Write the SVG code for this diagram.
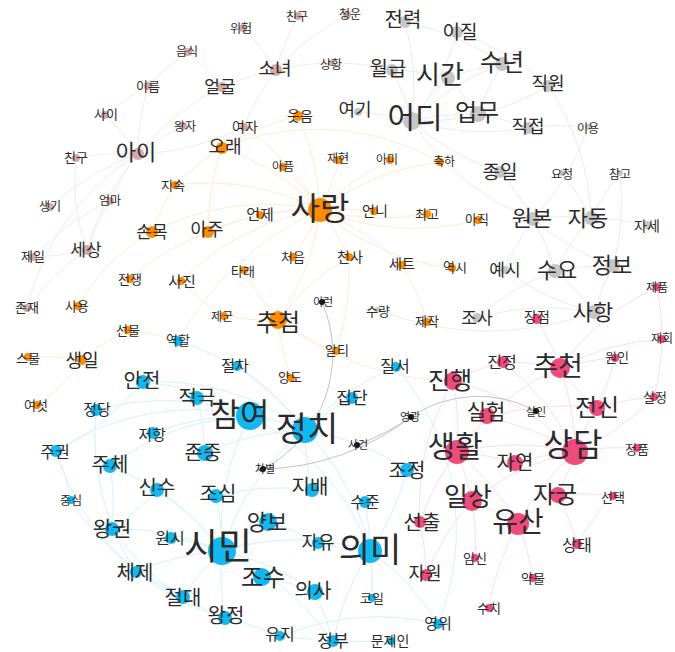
<svg xmlns="http://www.w3.org/2000/svg" width="675" height="652" viewBox="0 0 675 652">
<style>
text{font-family:"Noto Sans CJK KR","Noto Sans",sans-serif;fill:#2b2b2b;text-anchor:middle;dominant-baseline:central}
.b{fill:#d3aaaa}.o{fill:#ff8c00}.g{fill:#c6c6c6}.c{fill:#12b9f0}.p{fill:#f04b7d}.k{fill:#111}
#edges path{fill:none;stroke-width:1}
.ec{stroke:#a6e1f7;opacity:.45}.eo{stroke:#ffd2a6;opacity:.45}.ep{stroke:#f9b8cb;opacity:.45}.eg{stroke:#dadada;opacity:.5}.eb{stroke:#ecd6d6;opacity:.5}.ek{stroke:#b0b0b0;opacity:.75}
</style>
<rect width="675" height="652" fill="#fff"/>
<g id="edges">
<g class="ec">
<path d="M222,551 A250,250 0 0 1 250,416"/><path d="M222,551 A250,250 0 0 1 305,430"/><path d="M222,551 A250,250 0 0 1 370,551"/>
<path d="M112,529 A250,250 0 0 1 222,551"/><path d="M136,572 A250,250 0 0 1 222,551"/><path d="M183,597 A250,250 0 0 1 222,551"/>
<path d="M225,618 A250,250 0 0 1 222,551"/><path d="M222,551 A250,250 0 0 1 262,577"/><path d="M222,551 A250,250 0 0 1 268,522"/>
<path d="M110,466 A250,250 0 0 1 222,551"/><path d="M157,490 A250,250 0 0 1 222,551"/><path d="M216,496 A250,250 0 0 1 222,551"/>
<path d="M250,416 A250,250 0 0 1 305,430"/><path d="M305,430 A250,250 0 0 1 370,551"/><path d="M305,430 A250,250 0 0 1 352,398"/>
<path d="M305,430 A250,250 0 0 1 396,367"/><path d="M312,490 A250,250 0 0 1 305,430"/><path d="M143,382 A250,250 0 0 1 305,430"/>
<path d="M197,398 A250,250 0 0 1 250,416"/><path d="M143,382 A250,250 0 0 1 250,416"/><path d="M96,410 A250,250 0 0 1 250,416"/>
<path d="M153,433 A250,250 0 0 1 250,416"/><path d="M56,451 A250,250 0 0 1 250,416"/><path d="M370,551 A250,250 0 0 1 318,543"/>
<path d="M365,502 A250,250 0 0 1 370,551"/><path d="M407,470 A250,250 0 0 1 370,551"/><path d="M370,551 A250,250 0 0 1 438,624"/>
<path d="M370,551 A250,250 0 0 1 372,598"/><path d="M333,643 A250,250 0 0 1 370,551"/><path d="M315,592 A250,250 0 0 1 333,643"/>
<path d="M280,637 A250,250 0 0 1 333,643"/><path d="M333,643 A250,250 0 0 1 391,643"/><path d="M225,618 A250,250 0 0 1 280,637"/>
<path d="M136,572 A250,250 0 0 1 183,597"/><path d="M56,451 A250,250 0 0 1 71,500"/><path d="M110,466 A250,250 0 0 1 112,529"/>
<path d="M157,490 A250,250 0 0 1 112,529"/><path d="M268,522 A250,250 0 0 1 318,543"/><path d="M262,577 A250,250 0 0 1 315,592"/>
<path d="M178,341 A250,250 0 0 1 305,430"/><path d="M237,366 A250,250 0 0 1 305,430"/><path d="M305,430 A250,250 0 0 1 407,470"/>
<path d="M143,382 A250,250 0 0 1 56,451"/><path d="M197,398 A250,250 0 0 1 205,453"/><path d="M171,538 A250,250 0 0 1 222,551"/>
<path d="M222,551 A250,250 0 0 1 315,592"/><path d="M222,551 A250,250 0 0 1 333,643"/><path d="M110,466 A250,250 0 0 1 250,416"/>
<path d="M71,500 A250,250 0 0 0 183,597"/><path d="M56,451 A250,250 0 0 0 225,618"/><path d="M112,529 A250,250 0 0 0 225,618"/>
<path d="M396,367 A250,250 0 0 1 438,624"/><path d="M250,416 A250,250 0 0 1 370,551"/><path d="M205,453 A250,250 0 0 1 305,430"/>
<path d="M216,496 A250,250 0 0 1 312,490"/><path d="M96,410 A250,250 0 0 0 136,572"/><path d="M280,637 A250,250 0 0 1 438,624"/>
</g>
<g class="eo">
<path d="M260,215 A250,250 0 0 1 320,210"/><path d="M208,232 A250,250 0 0 1 320,210"/><path d="M222,148 A250,250 0 0 1 320,210"/>
<path d="M152,232 A250,250 0 0 1 320,210"/><path d="M298,116 A250,250 0 0 1 320,210"/><path d="M339,160 A250,250 0 0 1 320,210"/>
<path d="M320,210 A250,250 0 0 1 390,160"/><path d="M320,210 A250,250 0 0 1 440,162"/><path d="M283,167 A250,250 0 0 1 320,210"/>
<path d="M320,210 A250,250 0 0 1 374,211"/><path d="M320,210 A250,250 0 0 0 427,214"/><path d="M320,210 A250,250 0 0 0 478,220"/>
<path d="M320,210 A250,250 0 0 1 293,257"/><path d="M320,210 A250,250 0 0 1 349,257"/><path d="M320,210 A250,250 0 0 1 402,265"/>
<path d="M320,210 A250,250 0 0 0 452,268"/><path d="M320,210 A250,250 0 0 1 278,320"/><path d="M175,185 A250,250 0 0 1 320,210"/>
<path d="M181,281 A250,250 0 0 1 320,210"/><path d="M244,127 A250,250 0 0 1 320,210"/><path d="M278,320 A250,250 0 0 1 244,270"/>
<path d="M278,320 A250,250 0 0 1 224,316"/><path d="M278,320 A250,250 0 0 0 336,351"/><path d="M278,320 A250,250 0 0 0 291,378"/>
<path d="M278,320 A250,250 0 0 1 349,257"/><path d="M278,320 A300,300 0 0 0 453,381"/><path d="M128,330 A250,250 0 0 1 178,341"/>
<path d="M128,330 A250,250 0 0 0 82,360"/><path d="M82,360 A150,150 0 0 1 37,405"/><path d="M82,360 A250,250 0 0 0 28,357"/>
<path d="M78,306 A200,200 0 0 1 152,232"/><path d="M130,279 A250,250 0 0 1 208,232"/><path d="M152,232 A250,250 0 0 1 175,185"/>
<path d="M181,281 A250,250 0 0 0 224,316"/><path d="M208,232 A250,250 0 0 1 260,215"/><path d="M298,116 A250,250 0 0 0 222,148"/>
<path d="M175,185 A250,250 0 0 1 222,148"/><path d="M208,232 A250,250 0 0 1 222,148"/><path d="M349,257 A250,250 0 0 1 336,351"/>
<path d="M402,265 A250,250 0 0 1 427,322"/><path d="M178,341 A300,300 0 0 1 320,210"/><path d="M222,148 A250,250 0 0 1 440,162"/>
</g>
<g class="eg">
<path d="M412,121 A250,250 0 0 1 448,78"/><path d="M412,121 A250,250 0 0 1 478,114"/><path d="M358,112 A250,250 0 0 1 412,121"/>
<path d="M392,70 A250,250 0 0 1 412,121"/><path d="M412,121 A250,250 0 0 1 502,64"/><path d="M405,22 A250,250 0 0 1 412,121"/>
<path d="M457,32 A250,250 0 0 1 412,121"/><path d="M412,121 A250,250 0 0 0 548,86"/><path d="M412,121 A250,250 0 0 0 528,128"/>
<path d="M412,121 A250,250 0 0 0 500,172"/><path d="M448,78 A250,250 0 0 1 502,64"/><path d="M392,70 A250,250 0 0 1 448,78"/>
<path d="M478,114 A250,250 0 0 1 528,128"/><path d="M478,114 A250,250 0 0 1 502,64"/><path d="M533,219 A250,250 0 0 1 591,218"/>
<path d="M533,219 A250,250 0 0 1 555,271"/><path d="M533,219 A250,250 0 0 0 613,266"/><path d="M505,270 A250,250 0 0 1 533,219"/>
<path d="M555,271 A250,250 0 0 1 591,218"/><path d="M555,271 A250,250 0 0 1 613,266"/><path d="M555,271 A250,250 0 0 1 594,312"/>
<path d="M477,318 A250,250 0 0 1 594,312"/><path d="M594,312 A250,250 0 0 1 613,266"/><path d="M591,218 A250,250 0 0 1 647,225"/>
<path d="M591,218 A250,250 0 0 1 620,173"/><path d="M562,173 A250,250 0 0 1 591,218"/><path d="M588,127 A250,250 0 0 1 533,219"/>
<path d="M500,172 A250,250 0 0 1 533,219"/><path d="M528,128 A250,250 0 0 1 588,127"/><path d="M378,310 A300,300 0 0 0 594,312"/>
<path d="M477,318 A250,250 0 0 1 555,271"/><path d="M457,32 A250,250 0 0 1 548,86"/><path d="M405,22 A250,250 0 0 1 502,64"/>
<path d="M548,86 A250,250 0 0 1 591,218"/><path d="M331,63 A250,250 0 0 1 392,70"/><path d="M448,78 A250,250 0 0 1 478,114"/>
<path d="M412,121 A250,250 0 0 0 533,219"/><path d="M505,270 A250,250 0 0 0 594,312"/><path d="M620,173 A250,250 0 0 1 613,266"/>
</g>
<g class="eb">
<path d="M76,158 A250,250 0 0 1 138,154"/><path d="M105,115 A250,250 0 0 1 138,154"/><path d="M138,154 A250,250 0 0 1 148,86"/>
<path d="M138,154 A250,250 0 0 1 183,126"/><path d="M138,154 A250,250 0 0 1 222,87"/><path d="M110,201 A250,250 0 0 1 138,154"/>
<path d="M50,207 A250,250 0 0 1 138,154"/><path d="M87,250 A250,250 0 0 1 33,257"/><path d="M27,308 A250,250 0 0 1 87,250"/>
<path d="M87,250 A250,250 0 0 1 110,201"/><path d="M222,87 A250,250 0 0 1 276,70"/><path d="M188,52 A250,250 0 0 1 222,87"/>
<path d="M243,28 A250,250 0 0 1 276,70"/><path d="M276,70 A250,250 0 0 1 298,16"/><path d="M276,70 A250,250 0 0 1 347,15"/>
<path d="M276,70 A250,250 0 0 1 331,63"/><path d="M244,127 A250,250 0 0 1 276,70"/><path d="M138,154 A250,250 0 0 0 87,250"/>
<path d="M148,86 A250,250 0 0 1 188,52"/><path d="M138,154 A250,250 0 0 0 244,127"/><path d="M27,308 A250,250 0 0 1 138,154"/>
<path d="M105,115 A250,250 0 0 1 148,86"/><path d="M76,158 A200,200 0 0 0 87,250"/><path d="M33,257 A250,250 0 0 1 110,201"/>
</g>
<g class="ep">
<path d="M457,452 A250,250 0 0 1 575,452"/><path d="M560,368 A250,250 0 0 1 575,452"/><path d="M575,452 A250,250 0 0 1 597,408"/>
<path d="M515,463 A250,250 0 0 1 575,452"/><path d="M575,452 A250,250 0 0 1 558,495"/><path d="M472,501 A250,250 0 0 1 575,452"/>
<path d="M518,524 A250,250 0 0 1 575,452"/><path d="M487,418 A250,250 0 0 1 575,452"/><path d="M453,381 A250,250 0 0 1 575,452"/>
<path d="M503,362 A250,250 0 0 1 575,452"/><path d="M575,452 A250,250 0 0 1 637,448"/><path d="M654,397 A250,250 0 0 1 575,452"/>
<path d="M457,452 A250,250 0 0 1 472,501"/><path d="M457,452 A250,250 0 0 1 518,524"/><path d="M453,381 A250,250 0 0 1 457,452"/>
<path d="M487,418 A250,250 0 0 1 457,452"/><path d="M457,452 A250,250 0 0 1 515,463"/><path d="M457,452 A250,250 0 0 1 560,368"/>
<path d="M420,522 A250,250 0 0 1 457,452"/><path d="M472,501 A250,250 0 0 1 518,524"/><path d="M426,575 A250,250 0 0 1 472,501"/>
<path d="M472,501 A250,250 0 0 1 475,558"/><path d="M518,524 A250,250 0 0 1 533,578"/><path d="M489,608 A250,250 0 0 1 518,524"/>
<path d="M518,524 A250,250 0 0 1 558,495"/><path d="M558,495 A250,250 0 0 1 577,544"/><path d="M558,495 A250,250 0 0 1 613,496"/>
<path d="M560,368 A250,250 0 0 1 615,358"/><path d="M560,368 A250,250 0 0 1 662,339"/><path d="M560,368 A250,250 0 0 1 657,287"/>
<path d="M503,362 A250,250 0 0 1 560,368"/><path d="M597,408 A250,250 0 0 1 654,397"/><path d="M537,319 A250,250 0 0 1 560,368"/>
<path d="M453,381 A250,250 0 0 1 503,362"/><path d="M420,522 A250,250 0 0 1 426,575"/><path d="M597,408 A250,250 0 0 1 560,368"/>
<path d="M662,339 A250,250 0 0 1 654,397"/><path d="M657,287 A250,250 0 0 1 662,339"/><path d="M615,358 A250,250 0 0 1 597,408"/>
<path d="M453,381 A250,250 0 0 0 420,522"/><path d="M487,418 A250,250 0 0 1 597,408"/><path d="M613,496 A250,250 0 0 0 577,544"/>
</g>
<g class="ek">
<path d="M322,302 A130,130 0 0 1 263,469"/><path d="M411,417 A250,250 0 0 1 263,469"/><path d="M411,417 A120,120 0 0 1 536,411"/>
<path d="M357,445 A250,250 0 0 0 411,417"/>
</g>
</g>
<g id="nodes">
<g id="n-wiheom"><circle class="b" cx="243" cy="28" r="4"/><text x="241" y="27" font-size="12">위험</text></g>
<g id="n-chingu1"><circle class="b" cx="298" cy="16" r="4"/><text x="297" y="15" font-size="12">친구</text></g>
<g id="n-cheongun"><circle class="b" cx="347" cy="15" r="4"/><text x="350" y="13" font-size="12">청운</text></g>
<g id="n-eumsik"><circle class="b" cx="188" cy="52" r="4"/><text x="187" y="50" font-size="12">음식</text></g>
<g id="n-ireum"><circle class="b" cx="148" cy="86" r="4"/><text x="148" y="85" font-size="13">이름</text></g>
<g id="n-eolgul"><circle class="b" cx="222" cy="87" r="5"/><text x="220" y="85" font-size="17">얼굴</text></g>
<g id="n-sai"><circle class="b" cx="105" cy="115" r="4"/><text x="106" y="113" font-size="13">사이</text></g>
<g id="n-wangja"><circle class="b" cx="183" cy="126" r="4"/><text x="185" y="125" font-size="12">왕자</text></g>
<g id="n-ai"><circle class="b" cx="138" cy="154" r="6"/><text x="136" y="150" font-size="22">아이</text></g>
<g id="n-chingu2"><circle class="b" cx="76" cy="158" r="4"/><text x="76" y="156" font-size="13">친구</text></g>
<g id="n-sonyeo"><circle class="b" cx="276" cy="70" r="6"/><text x="275" y="67" font-size="18">소녀</text></g>
<g id="n-sanghwang"><circle class="b" cx="331" cy="63" r="3"/><text x="331" y="63" font-size="12">상황</text></g>
<g id="n-yeoja"><circle class="b" cx="244" cy="127" r="4"/><text x="245" y="126" font-size="14">여자</text></g>
<g id="n-saenggi"><circle class="b" cx="50" cy="207" r="4"/><text x="50" y="205" font-size="12">생기</text></g>
<g id="n-eomma"><circle class="b" cx="110" cy="201" r="4"/><text x="110" y="199" font-size="12">엄마</text></g>
<g id="n-sesang"><circle class="b" cx="87" cy="250" r="5"/><text x="86" y="248" font-size="17">세상</text></g>
<g id="n-jeil"><circle class="b" cx="33" cy="257" r="4"/><text x="33" y="255" font-size="13">제일</text></g>
<g id="n-jonjae"><circle class="b" cx="27" cy="308" r="4"/><text x="27" y="306" font-size="13">존재</text></g>

<g id="n-jeonryeok"><circle class="g" cx="405" cy="22" r="6"/><text x="403" y="18" font-size="20">전력</text></g>
<g id="n-ijil"><circle class="g" cx="457" cy="32" r="6"/><text x="460" y="30" font-size="19">이질</text></g>
<g id="n-wolgeup"><circle class="g" cx="392" cy="70" r="6"/><text x="388" y="67" font-size="20">월급</text></g>
<g id="n-sigan"><circle class="g" cx="448" cy="78" r="7"/><text x="440" y="72" font-size="26">시간</text></g>
<g id="n-sunyeon"><circle class="g" cx="502" cy="64" r="7"/><text x="502" y="60" font-size="24">수년</text></g>
<g id="n-jigwon"><circle class="g" cx="548" cy="86" r="6"/><text x="548" y="82" font-size="18">직원</text></g>
<g id="n-yeogi"><circle class="g" cx="358" cy="112" r="4"/><text x="355" y="108" font-size="18">여기</text></g>
<g id="n-eodi"><circle class="g" cx="412" cy="121" r="9"/><text x="415" y="115" font-size="30">어디</text></g>
<g id="n-eommu"><circle class="g" cx="478" cy="114" r="8"/><text x="477" y="110" font-size="24">업무</text></g>
<g id="n-jikjeop"><circle class="g" cx="528" cy="128" r="6"/><text x="528" y="125" font-size="18">직접</text></g>
<g id="n-iyong"><circle class="g" cx="588" cy="127" r="3"/><text x="588" y="127" font-size="12">이용</text></g>
<g id="n-jongil"><circle class="g" cx="500" cy="172" r="6"/><text x="500" y="170" font-size="19">종일</text></g>
<g id="n-yocheong"><circle class="g" cx="562" cy="173" r="3"/><text x="562" y="173" font-size="12">요청</text></g>
<g id="n-chamgo"><circle class="g" cx="620" cy="173" r="3"/><text x="620" y="173" font-size="12">참고</text></g>
<g id="n-wonbon"><circle class="g" cx="533" cy="219" r="7"/><text x="532" y="216" font-size="22">원본</text></g>
<g id="n-jadong"><circle class="g" cx="591" cy="218" r="7"/><text x="588" y="216" font-size="22">자동</text></g>
<g id="n-jase"><circle class="g" cx="647" cy="225" r="4"/><text x="647" y="225" font-size="14">자세</text></g>
<g id="n-yesi"><circle class="g" cx="505" cy="270" r="4"/><text x="505" y="268" font-size="17">예시</text></g>
<g id="n-suyo"><circle class="g" cx="555" cy="271" r="7"/><text x="557" y="268" font-size="22">수요</text></g>
<g id="n-jeongbo"><circle class="g" cx="613" cy="266" r="7"/><text x="612" y="263" font-size="22">정보</text></g>
<g id="n-sahang"><circle class="g" cx="594" cy="312" r="7"/><text x="593" y="310" font-size="22">사항</text></g>
<g id="n-josa"><circle class="g" cx="477" cy="318" r="5"/><text x="477" y="316" font-size="17">조사</text></g>
<g id="n-suryang"><circle class="g" cx="378" cy="310" r="3"/><text x="378" y="310" font-size="13">수량</text></g>

<g id="n-jejak"><circle class="o" cx="427" cy="322" r="4"/><text x="427" y="320" font-size="13">제작</text></g>
<g id="n-useum"><circle class="o" cx="298" cy="116" r="5"/><text x="300" y="115" font-size="14">웃음</text></g>
<g id="n-jaehyeon"><circle class="o" cx="339" cy="160" r="4"/><text x="338" y="157" font-size="12">재현</text></g>
<g id="n-ami"><circle class="o" cx="390" cy="160" r="4"/><text x="387" y="158" font-size="12">아미</text></g>
<g id="n-chukha"><circle class="o" cx="440" cy="162" r="4"/><text x="444" y="160" font-size="12">축하</text></g>
<g id="n-apeum"><circle class="o" cx="283" cy="167" r="4"/><text x="283" y="165" font-size="12">아픔</text></g>
<g id="n-orae"><circle class="o" cx="222" cy="148" r="6"/><text x="225" y="145" font-size="18">오래</text></g>
<g id="n-jisok"><circle class="o" cx="175" cy="185" r="4"/><text x="173" y="184" font-size="13">지속</text></g>
<g id="n-sarang"><circle class="o" cx="320" cy="210" r="12"/><text x="320" y="206" font-size="32">사랑</text></g>
<g id="n-eonje"><circle class="o" cx="260" cy="215" r="4"/><text x="260" y="213" font-size="15">언제</text></g>
<g id="n-eonni"><circle class="o" cx="374" cy="211" r="4"/><text x="375" y="210" font-size="14">언니</text></g>
<g id="n-choego"><circle class="o" cx="427" cy="214" r="4"/><text x="427" y="213" font-size="13">최고</text></g>
<g id="n-ajik"><circle class="o" cx="478" cy="220" r="4"/><text x="477" y="218" font-size="13">아직</text></g>
<g id="n-sonmok"><circle class="o" cx="152" cy="232" r="6"/><text x="152" y="230" font-size="17">손목</text></g>
<g id="n-aju"><circle class="o" cx="208" cy="232" r="6"/><text x="207" y="228" font-size="18">아주</text></g>
<g id="n-cheoeum"><circle class="o" cx="293" cy="257" r="4"/><text x="293" y="256" font-size="13">처음</text></g>
<g id="n-cheonsa"><circle class="o" cx="349" cy="257" r="4"/><text x="350" y="256" font-size="14">천사</text></g>
<g id="n-seteu"><circle class="o" cx="402" cy="265" r="4"/><text x="402" y="263" font-size="14">세트</text></g>
<g id="n-yeoksi"><circle class="o" cx="452" cy="268" r="4"/><text x="455" y="266" font-size="13">역시</text></g>
<g id="n-jeonjaeng"><circle class="o" cx="130" cy="279" r="4"/><text x="130" y="278" font-size="13">전쟁</text></g>
<g id="n-sajin"><circle class="o" cx="181" cy="281" r="4"/><text x="182" y="280" font-size="15">사진</text></g>
<g id="n-tarae"><circle class="o" cx="244" cy="270" r="4"/><text x="243" y="270" font-size="13">타래</text></g>
<g id="n-sayong"><circle class="o" cx="78" cy="306" r="4"/><text x="77" y="305" font-size="13">사용</text></g>
<g id="n-jegun"><circle class="o" cx="224" cy="316" r="4"/><text x="222" y="315" font-size="12">제군</text></g>
<g id="n-chucheom"><circle class="o" cx="278" cy="320" r="9"/><text x="278" y="320" font-size="24">추첨</text></g>
<g id="n-seonmul"><circle class="o" cx="128" cy="330" r="4"/><text x="128" y="329" font-size="13">선물</text></g>
<g id="n-alti"><circle class="o" cx="336" cy="351" r="4"/><text x="337" y="349" font-size="13">알티</text></g>
<g id="n-yangdo"><circle class="o" cx="291" cy="378" r="4"/><text x="290" y="376" font-size="13">양도</text></g>
<g id="n-seumul"><circle class="o" cx="28" cy="357" r="4"/><text x="28" y="357" font-size="13">스물</text></g>
<g id="n-saengil"><circle class="o" cx="82" cy="360" r="5"/><text x="82" y="359" font-size="18">생일</text></g>
<g id="n-yeoseot"><circle class="o" cx="37" cy="405" r="4"/><text x="36" y="404" font-size="13">여섯</text></g>

<g id="n-ireon"><circle class="k" cx="322" cy="302" r="3"/><text x="323" y="301" font-size="11">이런</text></g>
<g id="n-yeonggwang"><circle class="k" cx="411" cy="417" r="3"/><text x="410" y="416" font-size="11">영광</text></g>
<g id="n-sageon"><circle class="k" cx="357" cy="445" r="3"/><text x="358" y="444" font-size="11">사건</text></g>
<g id="n-chabyeol"><circle class="k" cx="263" cy="469" r="3"/><text x="265" y="468" font-size="11">차별</text></g>
<g id="n-sarin"><circle class="k" cx="536" cy="411" r="3"/><text x="536" y="411" font-size="11">살인</text></g>

<g id="n-yeokhal"><circle class="c" cx="178" cy="341" r="5"/><text x="178" y="339" font-size="13">역할</text></g>
<g id="n-anjeon"><circle class="c" cx="143" cy="382" r="7"/><text x="142" y="379" font-size="20">안전</text></g>
<g id="n-jeokgeuk"><circle class="c" cx="197" cy="398" r="7"/><text x="197" y="396" font-size="20">적극</text></g>
<g id="n-jeongdang"><circle class="c" cx="96" cy="410" r="6"/><text x="97" y="408" font-size="15">정당</text></g>
<g id="n-jeolcha"><circle class="c" cx="237" cy="366" r="5"/><text x="235" y="364" font-size="15">절차</text></g>
<g id="n-chamyeo"><circle class="c" cx="250" cy="416" r="14"/><text x="240" y="412" font-size="32">참여</text></g>
<g id="n-jeongchi"><circle class="c" cx="305" cy="430" r="13"/><text x="307" y="426" font-size="34">정치</text></g>
<g id="n-jipdan"><circle class="c" cx="352" cy="398" r="6"/><text x="352" y="396" font-size="17">집단</text></g>
<g id="n-jilseo"><circle class="c" cx="396" cy="367" r="5"/><text x="395" y="365" font-size="16">질서</text></g>
<g id="n-jeohang"><circle class="c" cx="153" cy="433" r="6"/><text x="152" y="433" font-size="15">저항</text></g>
<g id="n-jonjung"><circle class="c" cx="205" cy="453" r="8"/><text x="203" y="451" font-size="20">존중</text></g>
<g id="n-jugwon"><circle class="c" cx="56" cy="451" r="6"/><text x="55" y="451" font-size="16">주권</text></g>
<g id="n-juche"><circle class="c" cx="110" cy="466" r="7"/><text x="110" y="463" font-size="20">주체</text></g>
<g id="n-sinsu"><circle class="c" cx="157" cy="490" r="7"/><text x="157" y="486" font-size="20">신수</text></g>
<g id="n-josim"><circle class="c" cx="216" cy="496" r="7"/><text x="218" y="492" font-size="20">조심</text></g>
<g id="n-jibae"><circle class="c" cx="312" cy="490" r="7"/><text x="310" y="485" font-size="20">지배</text></g>
<g id="n-sujun"><circle class="c" cx="365" cy="502" r="6"/><text x="365" y="501" font-size="16">수준</text></g>
<g id="n-jojeong"><circle class="c" cx="407" cy="470" r="7"/><text x="407" y="469" font-size="20">조정</text></g>
<g id="n-jungsim"><circle class="c" cx="71" cy="500" r="4"/><text x="71" y="499" font-size="12">중심</text></g>
<g id="n-wanggwon"><circle class="c" cx="112" cy="529" r="7"/><text x="112" y="527" font-size="21">왕권</text></g>
<g id="n-wonsi"><circle class="c" cx="171" cy="538" r="6"/><text x="170" y="537" font-size="16">원시</text></g>
<g id="n-yangbo"><circle class="c" cx="268" cy="522" r="9"/><text x="267" y="520" font-size="22">양보</text></g>
<g id="n-simin"><circle class="c" cx="222" cy="551" r="14"/><text x="218" y="544" font-size="37">시민</text></g>
<g id="n-jayu"><circle class="c" cx="318" cy="543" r="6"/><text x="318" y="541" font-size="18">자유</text></g>
<g id="n-uimi"><circle class="c" cx="370" cy="551" r="12"/><text x="370" y="547" font-size="34">의미</text></g>
<g id="n-cheje"><circle class="c" cx="136" cy="572" r="6"/><text x="135" y="571" font-size="20">체제</text></g>
<g id="n-josu"><circle class="c" cx="262" cy="577" r="9"/><text x="263" y="575" font-size="24">조수</text></g>
<g id="n-uisa"><circle class="c" cx="315" cy="592" r="8"/><text x="313" y="589" font-size="20">의사</text></g>
<g id="n-jeoldae"><circle class="c" cx="183" cy="597" r="7"/><text x="183" y="596" font-size="20">절대</text></g>
<g id="n-wangjeong"><circle class="c" cx="225" cy="618" r="7"/><text x="226" y="614" font-size="20">왕정</text></g>
<g id="n-koil"><circle class="c" cx="372" cy="598" r="4"/><text x="372" y="597" font-size="13">코일</text></g>
<g id="n-yuji"><circle class="c" cx="280" cy="636" r="5"/><text x="280" y="633" font-size="16">유지</text></g>
<g id="n-jeongbu"><circle class="c" cx="333" cy="641" r="6"/><text x="333" y="639" font-size="17">정부</text></g>
<g id="n-munjein"><circle class="c" cx="391" cy="641" r="4"/><text x="390" y="640" font-size="14">문제인</text></g>
<g id="n-yeongwi"><circle class="c" cx="438" cy="624" r="5"/><text x="438" y="622" font-size="15">영위</text></g>

<g id="n-jinhaeng"><circle class="p" cx="453" cy="381" r="9"/><text x="450" y="378" font-size="24">진행</text></g>
<g id="n-jinjeong"><circle class="p" cx="503" cy="362" r="6"/><text x="502" y="361" font-size="16">진정</text></g>
<g id="n-chucheon"><circle class="p" cx="560" cy="368" r="10"/><text x="558" y="364" font-size="27">추천</text></g>
<g id="n-wonin"><circle class="p" cx="615" cy="358" r="4"/><text x="617" y="356" font-size="13">원인</text></g>
<g id="n-jaehoe"><circle class="p" cx="662" cy="339" r="4"/><text x="662" y="337" font-size="12">재회</text></g>
<g id="n-jepum"><circle class="p" cx="657" cy="287" r="4"/><text x="657" y="286" font-size="12">제품</text></g>
<g id="n-jangjeom"><circle class="p" cx="537" cy="319" r="5"/><text x="537" y="316" font-size="14">장점</text></g>
<g id="n-silheom"><circle class="p" cx="487" cy="416" r="8"/><text x="486" y="410" font-size="21">실험</text></g>
<g id="n-jeonsin"><circle class="p" cx="597" cy="408" r="8"/><text x="597" y="405" font-size="24">전신</text></g>
<g id="n-siljeong"><circle class="p" cx="654" cy="397" r="4"/><text x="655" y="396" font-size="13">실정</text></g>
<g id="n-saenghwal"><circle class="p" cx="457" cy="452" r="12"/><text x="455" y="444" font-size="30">생활</text></g>
<g id="n-sangdam"><circle class="p" cx="575" cy="452" r="13"/><text x="573" y="442" font-size="32">상담</text></g>
<g id="n-jayeon"><circle class="p" cx="515" cy="463" r="8"/><text x="515" y="461" font-size="20">자연</text></g>
<g id="n-jeongpum"><circle class="p" cx="637" cy="448" r="4"/><text x="637" y="448" font-size="13">정품</text></g>
<g id="n-jagung"><circle class="p" cx="558" cy="495" r="8"/><text x="555" y="492" font-size="24">자궁</text></g>
<g id="n-ilsang"><circle class="p" cx="472" cy="501" r="10"/><text x="468" y="494" font-size="26">일상</text></g>
<g id="n-yusan"><circle class="p" cx="518" cy="524" r="11"/><text x="518" y="520" font-size="28">유산</text></g>
<g id="n-seontaek"><circle class="p" cx="613" cy="496" r="4"/><text x="613" y="496" font-size="13">선택</text></g>
<g id="n-seonchul"><circle class="p" cx="420" cy="522" r="6"/><text x="422" y="521" font-size="20">선출</text></g>
<g id="n-sangtae"><circle class="p" cx="577" cy="544" r="5"/><text x="577" y="544" font-size="16">상태</text></g>
<g id="n-jawon"><circle class="p" cx="426" cy="575" r="6"/><text x="425" y="572" font-size="18">자원</text></g>
<g id="n-imsin"><circle class="p" cx="475" cy="558" r="4"/><text x="475" y="557" font-size="13">임신</text></g>
<g id="n-yangmul"><circle class="p" cx="533" cy="578" r="4"/><text x="533" y="577" font-size="13">약물</text></g>
<g id="n-suchi"><circle class="p" cx="489" cy="608" r="4"/><text x="489" y="607" font-size="13">수치</text></g>
</g>
</svg>
